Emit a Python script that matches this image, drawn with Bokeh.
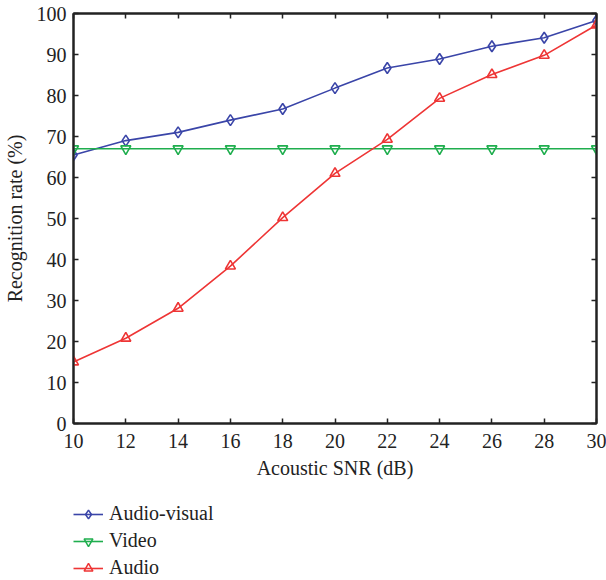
from bokeh.plotting import figure
from bokeh.layouts import column
from bokeh.models import LinearAxis, Legend, LegendItem, Range1d, FixedTicker
from bokeh.embed import file_html
from bokeh.resources import INLINE

snr = [10, 12, 14, 16, 18, 20, 22, 24, 26, 28, 30]
audio_visual = [65.5, 69.0, 71.0, 74.0, 76.7, 81.8, 86.7, 88.9, 92.0, 94.1, 98.3]
video = [67.0, 67.0, 67.0, 67.0, 67.0, 67.0, 67.0, 67.0, 67.0, 67.0, 67.0]
audio = [15.0, 20.8, 28.1, 38.4, 50.2, 61.0, 69.3, 79.3, 85.1, 89.8, 97.2]
x_ticks = [10, 12, 14, 16, 18, 20, 22, 24, 26, 28, 30]
y_ticks = [0, 10, 20, 30, 40, 50, 60, 70, 80, 90, 100]
series_names = ["Audio-visual", "Video", "Audio"]

BLUE = "#3a45a8"
GREEN = "#1fae4e"
RED = "#ee3535"
FONT = "Liberation Serif"
FS = "20px"

p = figure(width=606, height=485, output_backend="svg", toolbar_location=None,
           x_range=Range1d(10, 30), y_range=Range1d(0, 100),
           min_border_left=73, min_border_right=10, min_border_top=13, min_border_bottom=62)
p.grid.visible = False
p.outline_line_color = "#222222"
p.outline_line_width = 2
p.background_fill_color = "white"
p.border_fill_color = "white"

def style_axis(ax, labels=True):
    ax.axis_line_color = "#222222"
    ax.axis_line_width = 2
    ax.major_tick_in = 5
    ax.major_tick_out = 0
    ax.major_tick_line_color = "#222222"
    ax.major_tick_line_width = 1.5
    ax.minor_tick_line_color = None
    ax.major_label_text_font = FONT
    if labels:
        ax.major_label_text_font_size = FS
        ax.major_label_text_color = "#222222"
    else:
        ax.major_label_text_font_size = "1px"
        ax.major_label_text_color = None
        ax.major_label_standoff = 0
    ax.axis_label_text_font = FONT
    ax.axis_label_text_font_size = FS
    ax.axis_label_text_font_style = "normal"
    ax.axis_label_text_color = "#222222"

p.xaxis.ticker = FixedTicker(ticks=x_ticks)
p.yaxis.ticker = FixedTicker(ticks=y_ticks)
p.xaxis.axis_label = "Acoustic SNR (dB)"
p.yaxis.axis_label = "Recognition rate (%)"
style_axis(p.xaxis[0])
style_axis(p.yaxis[0])
p.xaxis.major_label_standoff = 10
p.yaxis.major_label_standoff = 7
p.xaxis.axis_label_standoff = 6
p.yaxis.axis_label_standoff = 8

top = LinearAxis(ticker=FixedTicker(ticks=x_ticks))
style_axis(top, labels=False)
p.add_layout(top, "above")
right = LinearAxis(ticker=FixedTicker(ticks=y_ticks))
style_axis(right, labels=False)
p.add_layout(right, "right")

colors = [BLUE, GREEN, RED]
markers = ["diamond", "inverted_triangle", "triangle"]
sizes = [11, 10, 10]
data = [audio_visual, video, audio]

for ys, c, m, s in zip(data, colors, markers, sizes):
    p.line(snr, ys, line_color=c, line_width=1.6)
    p.scatter(snr, ys, marker=m, size=s, line_color=c, fill_color=None, line_width=1.6)

# legend panel below the chart (its sample renderers sit outside the visible range)
lf = figure(width=606, height=94, output_backend="svg", toolbar_location=None,
            x_range=Range1d(0, 1), y_range=Range1d(0, 1),
            x_axis_location=None, y_axis_location=None,
            min_border_left=0, min_border_right=0, min_border_top=0, min_border_bottom=0)
lf.grid.visible = False
lf.outline_line_color = None
lf.border_fill_color = "white"

hidden_x = [-5, -4]
hidden_y = [-5, -4]
items = []
for name, c, m in zip(series_names, colors, markers):
    lr = lf.line(hidden_x, hidden_y, line_color=c, line_width=1.6)
    sr = lf.scatter(hidden_x, hidden_y, marker=m, size=7, line_color=c, fill_color=None, line_width=1.5)
    items.append(LegendItem(label=name, renderers=[lr, sr]))

legend = Legend(items=items, location=(0, 0), orientation="vertical")
legend.border_line_color = None
legend.background_fill_alpha = 0
legend.label_text_font = FONT
legend.label_text_font_size = FS
legend.label_text_color = "#222222"
legend.glyph_width = 30
legend.glyph_height = 22
legend.label_height = 22
legend.label_standoff = 6
legend.spacing = 4
legend.padding = 0
legend.margin = 0
lf.add_layout(legend, "center")

layout = column(p, lf, spacing=0)
open("out.html", "w").write(file_html(layout, INLINE))
